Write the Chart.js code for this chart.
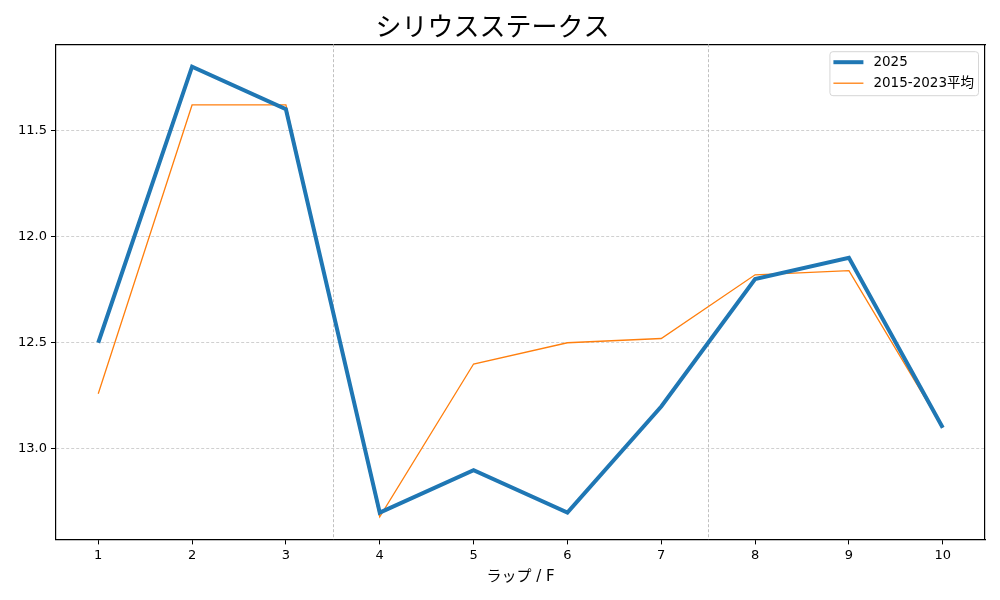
<!doctype html>
<html>
  <head>
    <meta charset="utf-8">
    <script src="https://cdn.jsdelivr.net/npm/chart.js@4.4.1/dist/chart.umd.min.js"></script>
    <style>
      body { margin: 0; background: #fff; }
    </style>
    <script>
      // data
      let laps = [1, 2, 3, 4, 5, 6, 7, 8, 9, 10];
      let lap2025 = [12.5, 11.2, 11.4, 13.3, 13.1, 13.3, 12.8, 12.2, 12.1, 12.9];
      let lapAverage = [12.74, 11.38, 11.38, 13.32, 12.6, 12.5, 12.48, 12.18, 12.16, 12.9];
      let yTicks = [11.5, 12.0, 12.5, 13.0];
      let sectionBreaks = [3.5, 7.5];

      let fontFamily = "'DejaVu Sans', 'Noto Sans CJK JP', sans-serif";

      // dotted vertical lines between sections + matplotlib-like legend box
      let extrasPlugin = {
        id: 'extras',
        beforeDatasetsDraw(chart) {
          let ctx = chart.ctx;
          let xs = chart.scales.x;
          let area = chart.chartArea;
          ctx.save();
          ctx.strokeStyle = '#b0b0b0';
          ctx.lineWidth = 0.8;
          ctx.setLineDash([3, 2]);
          for (let v of sectionBreaks) {
            let px = Math.round(xs.getPixelForValue(v)) + 0.5;
            ctx.beginPath();
            ctx.moveTo(px, area.top);
            ctx.lineTo(px, area.bottom);
            ctx.stroke();
          }
          ctx.restore();
        },
        afterDraw(chart) {
          let ctx = chart.ctx;
          let area = chart.chartArea;
          let sets = chart.data.datasets;
          ctx.save();
          ctx.font = '13.5px ' + fontFamily;
          let textW = Math.max(...sets.map(d => ctx.measureText(d.label).width));
          let rowH = 21;
          let boxW = 44 + textW + 4;
          let boxH = rowH * sets.length + 2;
          let bx = area.right - 7 - boxW;
          let by = area.top + 7;
          ctx.fillStyle = 'rgba(255,255,255,0.8)';
          ctx.strokeStyle = '#d6d6d6';
          ctx.lineWidth = 1;
          ctx.beginPath();
          ctx.roundRect(bx + 0.5, by + 0.5, boxW, boxH, 3);
          ctx.fill();
          ctx.stroke();
          sets.forEach((d, i) => {
            let cy = by + 11 + i * rowH;
            ctx.strokeStyle = d.borderColor;
            ctx.lineWidth = d.borderWidth;
            ctx.beginPath();
            ctx.moveTo(bx + 4, cy);
            ctx.lineTo(bx + 34, cy);
            ctx.stroke();
            ctx.fillStyle = '#000';
            ctx.textBaseline = 'middle';
            ctx.fillText(d.label, bx + 44, cy);
          });
          ctx.restore();
        }
      };

      function startPage() {
        new Chart(document.getElementById('c1'), {
          type: 'line',
          data: {
            datasets: [
              {
                label: '2025',
                data: laps.map((x, i) => ({ x: x, y: lap2025[i] })),
                borderColor: '#1f77b4',
                backgroundColor: '#1f77b4',
                borderWidth: 4,
                pointRadius: 0,
                tension: 0
              },
              {
                label: '2015-2023平均',
                data: laps.map((x, i) => ({ x: x, y: lapAverage[i] })),
                borderColor: '#ff7f0e',
                backgroundColor: '#ff7f0e',
                borderWidth: 1.3,
                pointRadius: 0,
                tension: 0
              }
            ]
          },
          options: {
            responsive: false,
            animation: false,
            layout: { padding: { left: 0, right: 15, top: 0, bottom: 14 } },
            plugins: {
              title: {
                display: true,
                text: 'シリウスステークス',
                color: '#000',
                font: { family: "'Noto Sans CJK JP', sans-serif", size: 26, weight: 'normal' },
                padding: { top: 11, bottom: 2 }
              },
              legend: { display: false },
              tooltip: { enabled: false }
            },
            scales: {
              x: {
                type: 'linear',
                min: 0.55,
                max: 10.45,
                afterBuildTicks(axis) {
                  axis.ticks = laps.map(v => ({ value: v }));
                },
                ticks: {
                  color: '#000',
                  font: { family: fontFamily, size: 13 },
                  padding: 3,
                  autoSkip: false,
                  maxRotation: 0
                },
                grid: {
                  display: true,
                  drawOnChartArea: false,
                  color: '#000',
                  tickLength: 5,
                  tickWidth: 1
                },
                border: { display: true, color: '#000', width: 1.2 },
                title: {
                  display: true,
                  text: 'ラップ / F',
                  color: '#000',
                  font: { family: fontFamily, size: 15 },
                  padding: { top: 2, bottom: 0 }
                }
              },
              y: {
                type: 'linear',
                reverse: true,
                min: 11.094,
                max: 13.426,
                afterBuildTicks(axis) {
                  axis.ticks = yTicks.map(v => ({ value: v }));
                },
                afterFit(axis) {
                  axis.width = 56;
                },
                ticks: {
                  color: '#000',
                  font: { family: fontFamily, size: 13 },
                  padding: 4,
                  callback: v => v.toFixed(1)
                },
                grid: {
                  color: '#b0b0b0',
                  lineWidth: 0.6,
                  tickLength: 5,
                  tickColor: '#000',
                  tickWidth: 1,
                  tickBorderDash: [0, 0]
                },
                border: { display: true, color: '#000', width: 1.2, dash: [3, 2] }
              },
              y2: {
                position: 'right',
                display: true,
                min: 0, max: 1,
                ticks: { display: false },
                grid: { display: false },
                border: { display: true, color: '#000', width: 1.2 },
                afterFit(axis) { axis.width = 0; }
              },
              x2: {
                position: 'top',
                type: 'linear',
                display: true,
                min: 0, max: 1,
                ticks: { display: false },
                grid: { display: false },
                border: { display: true, color: '#000', width: 1.2 },
                afterFit(axis) { axis.height = 0; }
              }
            }
          },
          plugins: [extrasPlugin]
        });
      }
    </script>
  </head>
  <body onload="startPage()">
    <canvas id="c1" width="1000" height="600"></canvas>
  </body>
</html>
